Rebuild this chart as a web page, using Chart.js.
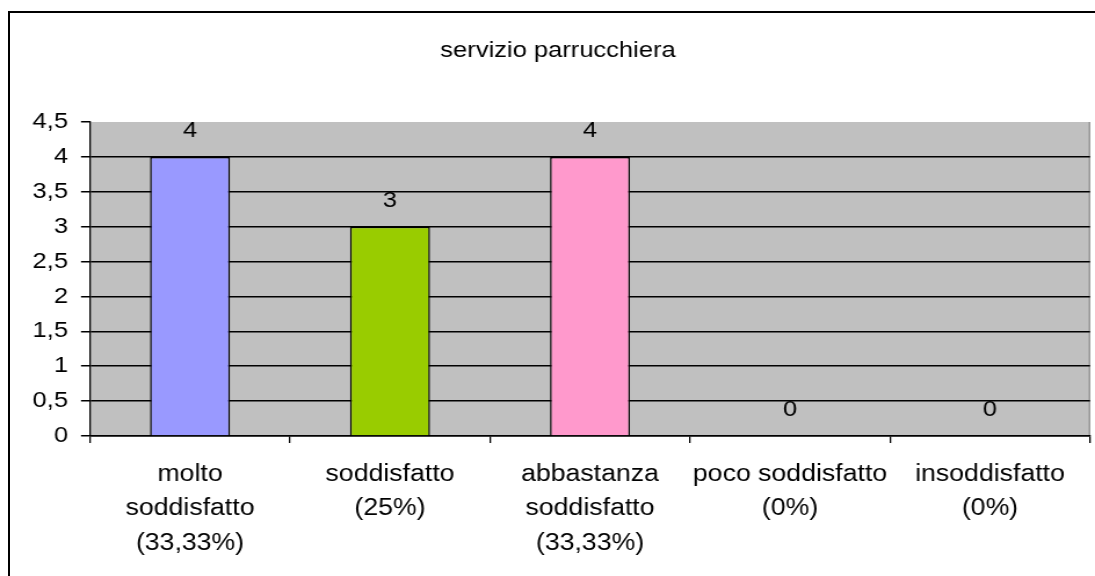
<!DOCTYPE html>
<html>
<head>
<meta charset="utf-8">
<script src="https://cdn.jsdelivr.net/npm/chart.js@4"></script>
<style>
  html, body { margin: 0; padding: 0; background: #fff; overflow: hidden; }
  #wrap { position: relative; width: 1095px; height: 576px; }
  #frame { position: absolute; left: 8px; top: 11px; width: 1200px; height: 700px; border: 2px solid #000; }
  /* the original picture is stretched sideways, so the canvas is drawn narrower and widened by css */
  #myChart { position: absolute; left: 0; top: 0; width: 1095px; height: 576px; }
</style>
</head>
<body>
<div id="wrap">
  <div id="frame"></div>
  <canvas id="myChart" width="944" height="576" style="width:1095px;height:576px"></canvas>
</div>
<script>
const chartTitle = 'servizio parrucchiera';
const categories = [
    ['molto', 'soddisfatto', '(33,33%)'],
    ['soddisfatto', '(25%)'],
    ['abbastanza', 'soddisfatto', '(33,33%)'],
    ['poco soddisfatto', '(0%)'],
    ['insoddisfatto', '(0%)']
];
const values = [4, 3, 4, 0, 0];
const barColors = ['#9999FF', '#99CC00', '#FF99CC', '#9999FF', '#9999FF'];
const yMin = 0;
const yMax = 4.5;
const yStep = 0.5;

const stretch = 1095 / 944;
const fontFamily = '"Liberation Sans", Arial, sans-serif';

// gray plot background + title
const backgroundPlugin = {
    id: 'plotBackground',
    beforeDraw(chart) {
        const ctx = chart.ctx;
        const a = chart.chartArea;
        ctx.save();
        ctx.fillStyle = '#C0C0C0';
        ctx.fillRect(a.left, a.top, a.right - a.left, a.bottom - a.top);
        ctx.strokeStyle = '#808080';
        ctx.lineWidth = 1;
        ctx.beginPath();
        ctx.moveTo(a.right - 0.5, a.top);
        ctx.lineTo(a.right - 0.5, a.bottom);
        ctx.stroke();
        ctx.fillStyle = '#000';
        ctx.font = '22px ' + fontFamily;
        ctx.textAlign = 'center';
        ctx.textBaseline = 'alphabetic';
        ctx.fillText(chartTitle, 558 / stretch, 57);
        ctx.restore();
    }
};

// value labels above bars
const valueLabels = {
    id: 'valueLabels',
    afterDatasetsDraw(chart) {
        const ctx = chart.ctx;
        const meta = chart.getDatasetMeta(0);
        ctx.save();
        ctx.fillStyle = '#000';
        ctx.font = '22px ' + fontFamily;
        ctx.textAlign = 'center';
        ctx.textBaseline = 'middle';
        meta.data.forEach(function(bar, i) {
            ctx.fillText(String(values[i]), bar.x, bar.y - 26);
        });
        ctx.restore();
    }
};

const data = {
    labels: categories,
    datasets: [{
        data: values,
        backgroundColor: barColors,
        borderColor: '#000',
        borderWidth: 1.5,
        barPercentage: 0.4,
        categoryPercentage: 1
    }]
};

const config = {
    type: 'bar',
    data: data,
    options: {
        responsive: false,
        animation: false,
        devicePixelRatio: 1,
        layout: { padding: { top: 122, right: 5 / stretch, left: 0, bottom: 0 } },
        plugins: {
            legend: { display: false },
            title: { display: false },
            tooltip: { enabled: false }
        },
        scales: {
            x: {
                grid: {
                    offset: true,
                    drawOnChartArea: false,
                    drawTicks: true,
                    tickLength: 7,
                    color: '#000',
                    lineWidth: 1.3
                },
                border: { color: '#000', width: 1.5 },
                ticks: {
                    color: '#000',
                    font: { family: fontFamily, size: 23, lineHeight: 1.5 },
                    padding: 14,
                    maxRotation: 0,
                    autoSkip: false
                },
                afterFit(scale) { scale.height = 140; }
            },
            y: {
                min: yMin,
                max: yMax,
                grid: {
                    color: function(c) { return c.tick && c.tick.value === yMax ? 'rgba(0,0,0,0)' : '#000'; },
                    tickColor: '#000',
                    tickLength: 9 / stretch,
                    lineWidth: 1.5
                },
                border: { color: '#000', width: 1.3 },
                ticks: {
                    stepSize: yStep,
                    color: '#000',
                    padding: 13 / stretch,
                    font: { family: fontFamily, size: 22 },
                    callback: function(v) { return String(v).replace('.', ','); }
                },
                afterFit(scale) { scale.width = 90 / stretch; }
            }
        }
    },
    plugins: [backgroundPlugin, valueLabels]
};

const chart = new Chart(
    document.getElementById('myChart'),
    config
);
</script>
</body>
</html>
